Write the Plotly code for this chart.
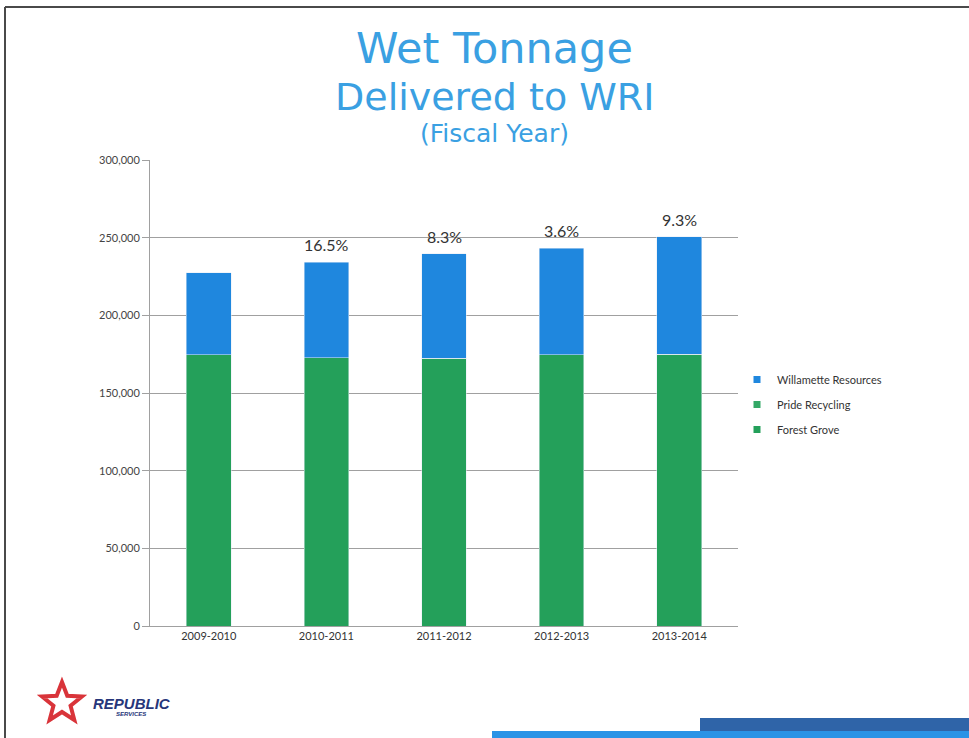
import math
import plotly.graph_objects as go

# Fiscal years and tonnage by source
years = ["2009-2010", "2010-2011", "2011-2012", "2012-2013", "2013-2014"]
forest_grove = [174500, 172700, 172300, 174500, 175100]
pride_recycling = [0, 0, 0, 0, 0]
willamette = [52900, 61400, 67200, 68600, 75500]
growth_labels = ["", "16.5%", "8.3%", "3.6%", "9.3%"]
y_ticks = [0, 50000, 100000, 150000, 200000, 250000, 300000]

BLUE = "#1f87de"
GREEN = "#24a05a"
GREEN_LIGHT = "#33a866"
TITLE_BLUE = "#3aa0e2"

W, H = 969, 738
L, R, T, B = 150, 738, 160, 626


def px(x):
    return (x - L) / (R - L)


def py(y):
    return (B - y) / (B - T)


fig = go.Figure()
series = [("Forest Grove", forest_grove, GREEN, 3),
          ("Pride Recycling", pride_recycling, GREEN_LIGHT, 2),
          ("Willamette Resources", willamette, BLUE, 1)]
for name, vals, col, rank in series:
    fig.add_trace(go.Bar(x=years, y=vals, name=name, marker_color=col,
                         showlegend=False))
# compact square legend keys
for name, vals, col, rank in series:
    fig.add_trace(go.Scatter(x=[None], y=[None], mode="markers", name=name,
                             marker=dict(symbol="square", size=7, color=col),
                             legendrank=rank, legendgroup=name))

totals = [a + b + c for a, b, c in zip(forest_grove, pride_recycling, willamette)]
annotations = []
for yr, tot, lab in zip(years, totals, growth_labels):
    if lab:
        annotations.append(dict(x=yr, y=tot, text=lab, showarrow=False,
                                yanchor="bottom", yshift=6,
                                font=dict(family="Lato", size=16, color="#333333")))

# Slide title block
for text, ycen, size in [("Wet Tonnage", 48, 43),
                         ("Delivered to WRI", 97, 38),
                         ("(Fiscal Year)", 133, 25)]:
    annotations.append(dict(xref="paper", yref="paper", x=px(494), y=py(ycen),
                            text=text, showarrow=False, xanchor="center",
                            yanchor="middle",
                            font=dict(family="DejaVu Sans", size=size, color=TITLE_BLUE)))

# Company logo wordmark
annotations.append(dict(xref="paper", yref="paper", x=px(91), y=py(703),
                        text="<b><i>REPUBLIC</i></b>", showarrow=False,
                        xanchor="left", yanchor="middle",
                        font=dict(family="Liberation Sans", size=15, color="#27367a")))
annotations.append(dict(xref="paper", yref="paper", x=px(114), y=py(714),
                        text="<b><i>SERVICES</i></b>", showarrow=False,
                        xanchor="left", yanchor="middle",
                        font=dict(family="Liberation Sans", size=6, color="#27367a")))

# Star emblem path
cx, cy, ro, ri = 62, 703, 21, 9
pts = []
for k in range(10):
    ang = -math.pi / 2 + k * math.pi / 5
    r = ro if k % 2 == 0 else ri
    pts.append((px(cx + r * math.cos(ang)), py(cy + r * math.sin(ang))))
star_path = "M " + " L ".join(f"{a:.4f},{b:.4f}" for a, b in pts) + " Z"

shapes = [
    dict(type="path", xref="paper", yref="paper", path=star_path,
         line=dict(color="#d9343a", width=4), fillcolor="rgba(0,0,0,0)"),
    # slide frame
    dict(type="line", xref="paper", yref="paper", x0=px(5), x1=px(969),
         y0=py(7), y1=py(7), line=dict(color="#4a4a4a", width=2)),
    dict(type="line", xref="paper", yref="paper", x0=px(5), x1=px(5),
         y0=py(7), y1=py(738), line=dict(color="#4a4a4a", width=2)),
    # footer bands
    dict(type="rect", xref="paper", yref="paper", x0=px(700), x1=px(969),
         y0=py(731), y1=py(718), line=dict(width=0), fillcolor="#2f64a8"),
    dict(type="rect", xref="paper", yref="paper", x0=px(492), x1=px(969),
         y0=py(738), y1=py(731), line=dict(width=0), fillcolor="#2a93e6"),
]

fig.update_layout(
    width=W, height=H,
    margin=dict(l=L, r=W - R, t=T, b=H - B, pad=0),
    paper_bgcolor="white", plot_bgcolor="white",
    barmode="stack", bargap=0.62,
    showlegend=True,
    legend=dict(x=px(737), y=py(365), xanchor="left", yanchor="top",
                traceorder="grouped", tracegroupgap=6,
                font=dict(family="Lato", size=11, color="#333333"),
                itemwidth=30, bgcolor="rgba(0,0,0,0)"),
    annotations=annotations,
    shapes=shapes,
    xaxis=dict(showgrid=False, showline=True, linecolor="#a0a0a0", linewidth=1,
               ticks="", tickfont=dict(family="Lato", size=11, color="#333333"),
               fixedrange=True),
    yaxis=dict(range=[0, 300000], tickvals=y_ticks,
               ticktext=[f"{v:,}" for v in y_ticks],
               showgrid=True, gridcolor="#a0a0a0", gridwidth=1,
               showline=True, linecolor="#a0a0a0", linewidth=1,
               ticks="outside", ticklen=7, tickcolor="#a0a0a0",
               tickfont=dict(family="Lato", size=11, color="#444444"),
               zeroline=False, fixedrange=True),
)

fig.write_html("out.html")
